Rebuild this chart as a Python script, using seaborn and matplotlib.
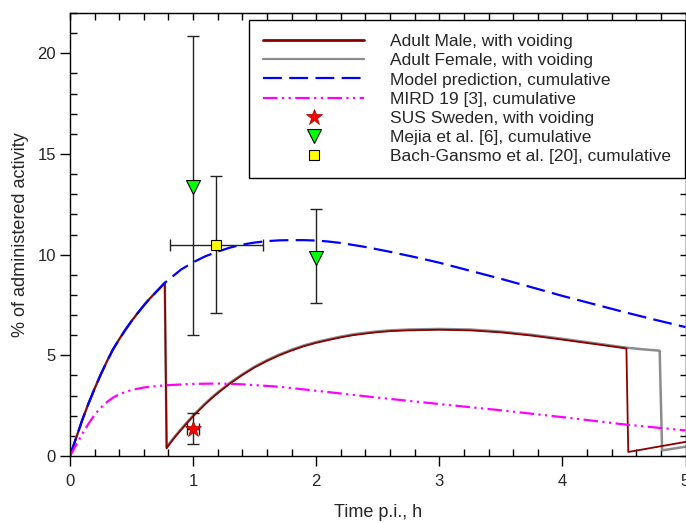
import numpy as np
import pandas as pd
import matplotlib
matplotlib.use('Agg')
import matplotlib.pyplot as plt
from matplotlib.lines import Line2D
from matplotlib.ticker import MultipleLocator
import seaborn as sns

# model prediction, cumulative
model_t = [0, 0.025, 0.05, 0.075, 0.1, 0.15, 0.2, 0.25, 0.3, 0.35, 0.4, 0.45, 0.5, 0.55, 0.6, 0.65,
           0.7, 0.77, 0.85, 0.9, 1.0, 1.1, 1.2, 1.3, 1.4, 1.5, 1.6, 1.7, 1.8, 1.9, 2.0, 2.1, 2.2,
           2.4, 2.6, 2.8, 3.0, 3.25, 3.5, 3.75, 4.0, 4.25, 4.5, 4.75, 5.0]
model_v = [0, 0.46, 0.9, 1.35, 1.8, 2.6, 3.35, 4.05, 4.7, 5.3, 5.8, 6.27, 6.7, 7.1, 7.48, 7.83,
           8.15, 8.6, 9.0, 9.25, 9.62, 9.92, 10.15, 10.35, 10.5, 10.6, 10.67, 10.71, 10.72, 10.72,
           10.7, 10.65, 10.58, 10.38, 10.14, 9.88, 9.6, 9.2, 8.8, 8.38, 7.95, 7.55, 7.15, 6.77, 6.4]

# MIRD 19 [3], cumulative
mird_t = [0, 0.05, 0.1, 0.15, 0.2, 0.25, 0.3, 0.35, 0.4, 0.5, 0.6, 0.7, 0.8, 1.0, 1.2, 1.4, 1.7,
          2.0, 2.5, 3.0, 3.5, 4.0, 4.5, 5.0]
mird_v = [0, 0.55, 1.1, 1.6, 2.05, 2.4, 2.68, 2.9, 3.07, 3.28, 3.4, 3.47, 3.52, 3.58, 3.6, 3.56, 3.44,
          3.24, 2.9, 2.58, 2.27, 1.93, 1.57, 1.27]

# adult male / female, with voiding
rise_t = [0, 0.025, 0.05, 0.075, 0.1, 0.15, 0.2, 0.25, 0.3, 0.35, 0.4, 0.45, 0.5, 0.55, 0.6, 0.65,
          0.7, 0.77]
rise_v = [0, 0.46, 0.9, 1.35, 1.8, 2.6, 3.35, 4.05, 4.7, 5.3, 5.8, 6.27, 6.7, 7.1, 7.48, 7.83,
          8.15, 8.6]
male_t = rise_t + [0.785, 0.8, 0.85, 0.9, 0.95, 1.0, 1.05, 1.1, 1.15, 1.2, 1.3, 1.4, 1.5, 1.6, 1.7,
                   1.8, 1.9, 2.0, 2.1, 2.2, 2.3, 2.4, 2.5, 2.6, 2.75, 3.0, 3.25, 3.5, 3.75, 4.0,
                   4.25, 4.52, 4.535, 5.0]
male_v = rise_v + [0.38, 0.52, 0.92, 1.28, 1.63, 1.97, 2.28, 2.58, 2.86, 3.12, 3.6, 4.02, 4.4, 4.72,
                   5.0, 5.24, 5.45, 5.62, 5.76, 5.89, 6.0, 6.08, 6.15, 6.2, 6.24, 6.27, 6.24, 6.14,
                   5.98, 5.78, 5.57, 5.34, 0.2, 0.7]
female_t = rise_t + [0.785, 0.8, 0.85, 0.9, 0.95, 1.0, 1.05, 1.1, 1.15, 1.2, 1.3, 1.4, 1.5, 1.6, 1.7,
                     1.8, 1.9, 2.0, 2.1, 2.2, 2.3, 2.4, 2.5, 2.6, 2.75, 3.0, 3.25, 3.5, 3.75, 4.0,
                     4.25, 4.52, 4.65, 4.79, 4.81, 5.0]
female_v = rise_v + [0.42, 0.56, 0.96, 1.32, 1.67, 2.01, 2.32, 2.62, 2.9, 3.16, 3.64, 4.06, 4.44,
                     4.76, 5.04, 5.28, 5.49, 5.66, 5.8, 5.93, 6.04, 6.12, 6.19, 6.24, 6.28, 6.31,
                     6.28, 6.18, 6.02, 5.82, 5.61, 5.38, 5.3, 5.23, 0.28, 0.46]

# measured points
sus_t, sus_v = [1.0], [1.33]
sus_yerr = [[0.75], [0.8]]
sus_xerr = [[0.05], [0.05]]
mejia_t, mejia_v = [1.0, 2.0], [13.35, 9.85]
mejia_yerr = [[7.35, 2.27], [7.5, 2.4]]
bach_t, bach_v = [1.19], [10.5]
bach_yerr = [[3.4], [3.4]]
bach_xerr = [[0.38], [0.38]]

labels = ['Adult Male, with voiding', 'Adult Female, with voiding', 'Model prediction, cumulative',
          'MIRD 19 [3], cumulative', 'SUS Sweden, with voiding', 'Mejia et al. [6], cumulative',
          'Bach-Gansmo et al. [20], cumulative']

sns.set_style('ticks')
plt.rcParams['font.family'] = ['Liberation Sans', 'DejaVu Sans']
plt.rcParams['font.size'] = 12

fig = plt.figure(figsize=(6.86, 5.23), dpi=100)
ax = fig.add_axes([70 / 686, 1 - 456 / 523, 615.5 / 686, 443 / 523])

male_c = '#8b0000'
female_c = '#8c8c8c'
blue_c = '#0000ff'
mag_c = '#ff00ff'

sns.lineplot(x=female_t, y=female_v, ax=ax, color=female_c, lw=1.8, sort=False, estimator=None)
sns.lineplot(x=male_t, y=male_v, ax=ax, color=male_c, lw=1.3, sort=False, estimator=None)
sns.lineplot(x=model_t, y=model_v, ax=ax, color=blue_c, lw=1.6, sort=False, estimator=None)
ax.lines[-1].set_dashes((8.5, 3.3))
sns.lineplot(x=mird_t, y=mird_v, ax=ax, color=mag_c, lw=1.6, sort=False, estimator=None)
ax.lines[-1].set_dashes((6.5, 2, 1, 2, 1, 2))

eb = dict(fmt='none', ecolor='#222222', elinewidth=1.0, capsize=4.5, capthick=1.0, zorder=4)
ax.errorbar(sus_t, sus_v, yerr=sus_yerr, xerr=sus_xerr, **eb)
ax.errorbar(mejia_t, mejia_v, yerr=mejia_yerr, **eb)
ax.errorbar(bach_t, bach_v, yerr=bach_yerr, xerr=bach_xerr, **eb)

mk = dict(linestyle='none', markeredgecolor='black', markeredgewidth=0.8, zorder=5)
ax.plot(sus_t, sus_v, marker='*', markersize=12, markerfacecolor='#ff0000',
        **{**mk, 'markeredgecolor': '#aa0000', 'markeredgewidth': 0.5})
ax.plot(mejia_t, mejia_v, marker='v', markersize=10, markerfacecolor='#00ff00', **mk)
ax.plot(bach_t, bach_v, marker='s', markersize=7, markerfacecolor='#ffff00', **mk)

ax.set_xlim(0, 5)
ax.set_ylim(0, 22)
ax.xaxis.set_major_locator(MultipleLocator(1))
ax.xaxis.set_minor_locator(MultipleLocator(0.2))
ax.yaxis.set_major_locator(MultipleLocator(5))
ax.yaxis.set_minor_locator(MultipleLocator(1))
ax.tick_params(which='major', direction='out', length=7, width=1, color='black',
               labelsize=12, pad=3)
ax.tick_params(axis='x', which='major', pad=6)
ax.tick_params(which='minor', direction='in', length=5, width=1, color='black')
for sp in ax.spines.values():
    sp.set_visible(True)
    sp.set_color('black')
    sp.set_linewidth(1.0)

top = ax.secondary_xaxis('top')
top.xaxis.set_major_locator(MultipleLocator(0.2))
top.tick_params(direction='in', length=5, width=1, labeltop=False, color='black')
right = ax.secondary_yaxis('right')
right.yaxis.set_major_locator(MultipleLocator(1))
right.tick_params(direction='in', length=4, width=1, labelright=False, color='black')

ax.set_xlabel('Time p.i., h', fontsize=13, labelpad=11)
ax.set_ylabel('% of administered activity', fontsize=13, labelpad=6)

handles = [
    Line2D([], [], color=male_c, lw=2),
    Line2D([], [], color=female_c, lw=1.6),
    Line2D([], [], color=blue_c, lw=1.6, dashes=(8.5, 3.3)),
    Line2D([], [], color=mag_c, lw=1.6, dashes=(6.5, 2, 1, 2, 1, 2)),
    Line2D([], [], ls='none', marker='*', markersize=12, markerfacecolor='#ff0000',
           markeredgecolor='#aa0000', markeredgewidth=0.5),
    Line2D([], [], ls='none', marker='v', markersize=10, markerfacecolor='#00ff00',
           markeredgecolor='black', markeredgewidth=0.8),
    Line2D([], [], ls='none', marker='s', markersize=7, markerfacecolor='#ffff00',
           markeredgecolor='black', markeredgewidth=0.8),
]
leg = ax.legend(handles, labels, loc='upper right', bbox_to_anchor=(685 / 686, 1 - 20 / 523),
                bbox_transform=fig.transFigure, borderaxespad=0, fontsize=12.5,
                handlelength=5.8, handletextpad=1.5, labelspacing=0.235, borderpad=0.8,
                fancybox=False, framealpha=1, edgecolor='black', numpoints=1)
leg.get_frame().set_linewidth(1.0)

fig.savefig('out.png', dpi=100)
